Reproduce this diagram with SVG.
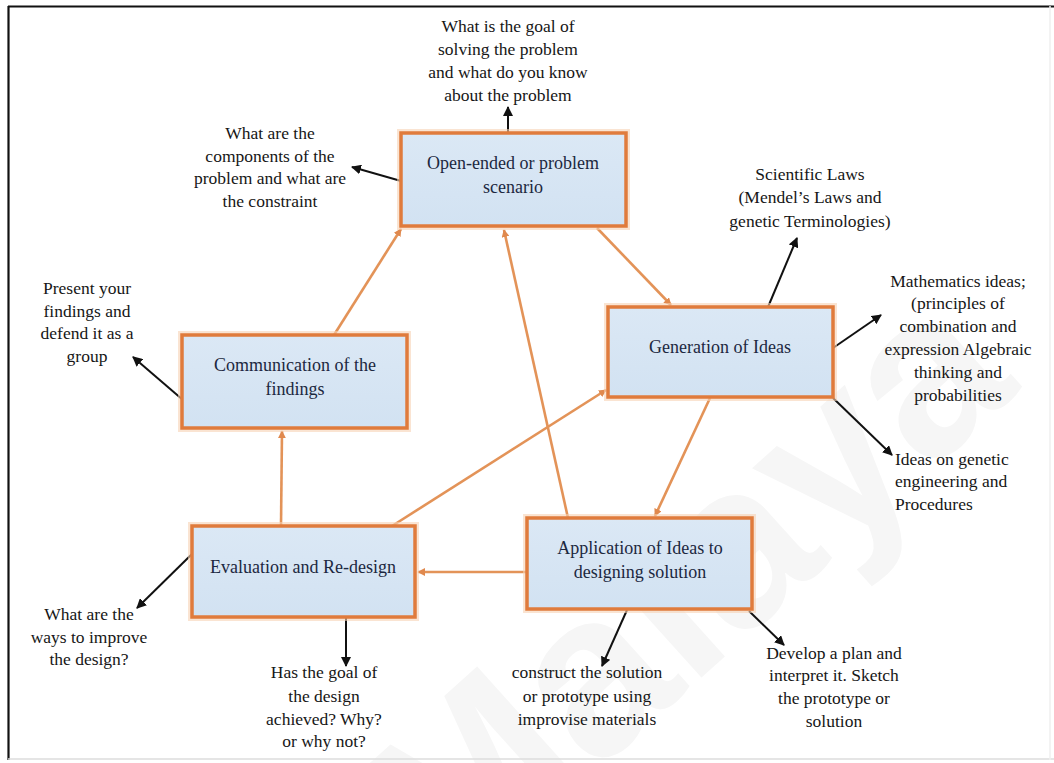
<svg xmlns="http://www.w3.org/2000/svg" width="1054" height="763" viewBox="0 0 1054 763">
  <defs>
    <marker id="arrow-orange" viewBox="0 0 10 10" refX="9" refY="5" markerWidth="3" markerHeight="3" orient="auto">
      <path d="M0,0 L10,5 L0,10 z" fill="#e0894e"/>
    </marker>
    <marker id="arrow-black" viewBox="0 0 10 10" refX="9" refY="5" markerWidth="5" markerHeight="5" orient="auto">
      <path d="M0,0 L10,5 L0,10 z" fill="#111"/>
    </marker>
    <linearGradient id="boxFill" x1="0" y1="0" x2="0" y2="1">
      <stop offset="0" stop-color="#dbe8f5"/>
      <stop offset="1" stop-color="#d2e2f2"/>
    </linearGradient>
  </defs>
  <style>
    .box { fill: url(#boxFill); stroke: #e07b3c; stroke-width: 3.5; }
    .halo { fill: none; stroke: #f6d2b4; stroke-width: 8; opacity: 0.6; }
    .boxtext { font-family: "Liberation Serif", "Times New Roman", serif; font-size: 18px; fill: #1c2840; text-anchor: middle; }
    .note { font-family: "Liberation Serif", "Times New Roman", serif; font-size: 17.5px; fill: #161616; text-anchor: middle; }
    .note-left { text-anchor: start; }
    .flow { stroke: #e39358; stroke-width: 2.6; fill: none; marker-end: url(#arrow-orange); }
    .pointer { stroke: #111; stroke-width: 2; fill: none; marker-end: url(#arrow-black); }
  </style>

  <!-- page background, faint watermark and frame -->
  <rect x="0" y="0" width="1054" height="763" fill="#ffffff"/>
  <text x="0" y="0" transform="translate(452,902) rotate(-42)" font-family="Liberation Sans, Arial, sans-serif" font-weight="bold" font-size="230" fill="#f6f6f6">Malaya</text>
  <line x1="8" y1="6.5" x2="1054" y2="6.5" stroke="#111" stroke-width="2.2"/>
  <line x1="8.5" y1="6" x2="8.5" y2="760" stroke="#111" stroke-width="2.2"/>
  <line x1="8" y1="759" x2="1054" y2="759" stroke="#dcdcdc" stroke-width="1.5"/>
  <line x1="1050" y1="6" x2="1050" y2="760" stroke="#efefef" stroke-width="1.5"/>

  <!-- process flow between stages -->
  <g id="connectors">
    <line class="flow" x1="334" y1="335" x2="401" y2="229"/>
    <line class="flow" x1="568" y1="518" x2="504" y2="230"/>
    <line class="flow" x1="597" y1="228" x2="671" y2="305"/>
    <line class="flow" x1="710" y1="398" x2="655" y2="516"/>
    <line class="flow" x1="527" y1="572" x2="418" y2="572"/>
    <line class="flow" x1="392" y1="526" x2="606" y2="390"/>
    <line class="flow" x1="281" y1="526" x2="282" y2="431"/>

    <!-- guiding questions pointers -->
    <line class="pointer" x1="508" y1="133" x2="508" y2="107"/>
    <line class="pointer" x1="401" y1="181" x2="352" y2="167"/>
    <line class="pointer" x1="183" y1="400" x2="133" y2="357"/>
    <line class="pointer" x1="768" y1="307" x2="797" y2="238"/>
    <line class="pointer" x1="833" y1="348" x2="881" y2="315"/>
    <line class="pointer" x1="833" y1="398" x2="892" y2="455"/>
    <line class="pointer" x1="192" y1="554" x2="137" y2="608"/>
    <line class="pointer" x1="346" y1="617" x2="346" y2="666"/>
    <line class="pointer" x1="627" y1="610" x2="602" y2="666"/>
    <line class="pointer" x1="749" y1="611" x2="784" y2="645"/>
  </g>

  <!-- stage boxes -->
  <g id="open-ended">
    <rect class="halo" x="401" y="133" width="225" height="93"/>
    <rect class="box" x="401" y="133" width="225" height="93"/>
    <text class="boxtext" x="513" y="169">Open-ended or problem</text>
    <text class="boxtext" x="513" y="193">scenario</text>
  </g>
  <g id="communication">
    <rect class="halo" x="182" y="335" width="225" height="93"/>
    <rect class="box" x="182" y="335" width="225" height="93"/>
    <text class="boxtext" x="295" y="371">Communication of the</text>
    <text class="boxtext" x="295" y="395">findings</text>
  </g>
  <g id="generation">
    <rect class="halo" x="608" y="307" width="225" height="90"/>
    <rect class="box" x="608" y="307" width="225" height="90"/>
    <text class="boxtext" x="720" y="353">Generation of Ideas</text>
  </g>
  <g id="evaluation">
    <rect class="halo" x="192" y="526" width="223" height="91"/>
    <rect class="box" x="192" y="526" width="223" height="91"/>
    <text class="boxtext" x="303" y="573">Evaluation and Re-design</text>
  </g>
  <g id="application">
    <rect class="halo" x="527" y="518" width="225" height="91"/>
    <rect class="box" x="527" y="518" width="225" height="91"/>
    <text class="boxtext" x="640" y="554">Application of Ideas to</text>
    <text class="boxtext" x="640" y="578">designing solution</text>
  </g>

  <!-- guiding questions -->
  <g id="note-goal">
    <text class="note" x="508" y="32">What is the goal of</text>
    <text class="note" x="508" y="55">solving the problem</text>
    <text class="note" x="508" y="78">and what do you know</text>
    <text class="note" x="508" y="101">about the problem</text>
  </g>
  <g id="note-components">
    <text class="note" x="270" y="139">What are the</text>
    <text class="note" x="270" y="162">components of the</text>
    <text class="note" x="270" y="184">problem and what are</text>
    <text class="note" x="270" y="207">the constraint</text>
  </g>
  <g id="note-present">
    <text class="note" x="87" y="294">Present your</text>
    <text class="note" x="87" y="317">findings and</text>
    <text class="note" x="87" y="339">defend it as a</text>
    <text class="note" x="87" y="362">group</text>
  </g>
  <g id="note-laws">
    <text class="note" x="810" y="180">Scientific Laws</text>
    <text class="note" x="810" y="203">(Mendel’s Laws and</text>
    <text class="note" x="810" y="227">genetic Terminologies)</text>
  </g>
  <g id="note-maths">
    <text class="note" x="958" y="287">Mathematics ideas;</text>
    <text class="note" x="958" y="309">(principles of</text>
    <text class="note" x="958" y="332">combination and</text>
    <text class="note" x="958" y="355">expression  Algebraic</text>
    <text class="note" x="958" y="378">thinking and</text>
    <text class="note" x="958" y="401">probabilities</text>
  </g>
  <g id="note-engineering">
    <text class="note note-left" x="895" y="465">Ideas on genetic</text>
    <text class="note note-left" x="895" y="487">engineering and</text>
    <text class="note note-left" x="895" y="510">Procedures</text>
  </g>
  <g id="note-improve">
    <text class="note" x="89" y="620">What are the</text>
    <text class="note" x="89" y="643">ways to improve</text>
    <text class="note" x="89" y="665">the design?</text>
  </g>
  <g id="note-achieved">
    <text class="note" x="324" y="678">Has the goal of</text>
    <text class="note" x="324" y="702">the design</text>
    <text class="note" x="324" y="725">achieved? Why?</text>
    <text class="note" x="324" y="747">or why not?</text>
  </g>
  <g id="note-construct">
    <text class="note" x="587" y="678">construct the solution</text>
    <text class="note" x="587" y="702">or prototype using</text>
    <text class="note" x="587" y="725">improvise materials</text>
  </g>
  <g id="note-plan">
    <text class="note" x="834" y="659">Develop a plan and</text>
    <text class="note" x="834" y="681">interpret it. Sketch</text>
    <text class="note" x="834" y="704">the prototype or</text>
    <text class="note" x="834" y="727">solution</text>
  </g>
</svg>
